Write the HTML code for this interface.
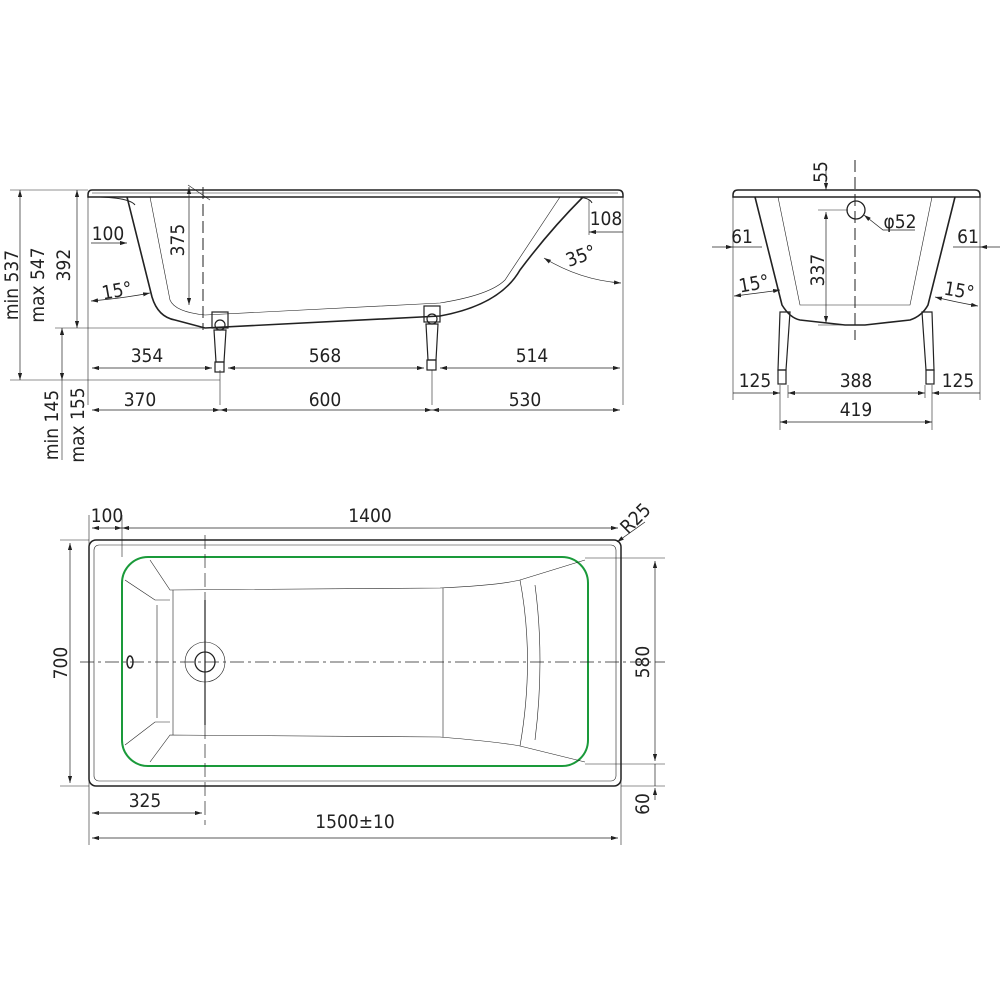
<!DOCTYPE html>
<html><head><meta charset="utf-8"><style>
body{margin:0;background:#fff}
svg{display:block}
text{font-family:"DejaVu Sans Condensed","Liberation Sans Narrow","Liberation Sans",sans-serif;font-size:19px;fill:#222}
</style></head><body>
<svg width="1000" height="1000" viewBox="0 0 1000 1000" xmlns="http://www.w3.org/2000/svg">
<defs>
<marker id="a" viewBox="0 0 10 6" refX="10" refY="3" markerWidth="10" markerHeight="6" orient="auto-start-reverse"><path d="M0,0 L10,3 L0,6 z" fill="#222"/></marker>
</defs>
<g stroke="#222" fill="none" stroke-width="1">
<path d="M92,190 L618,190 Q623,190 623,195 L623,197 L88,197 L88,195 Q88,190 92,190 Z" stroke-width="1.5"/>
<line x1="92" y1="193" x2="618" y2="193" stroke-width="0.6"/>
<path d="M127,197 L152,297 Q158,317 175,320 L205,328 L440,316 Q500,305 520,270 Q550,230 583,197" stroke-width="1.6"/>
<path d="M100,197 Q130,198 135,205" />
<path d="M578,197 Q590,198 592,203"/>
<path d="M150,197 L170,300 Q175,312 205,315 L440,303 Q490,295 505,280 L560,197" stroke-width="0.6"/>
<line x1="203" y1="187" x2="203" y2="330" stroke-dasharray="12,5"/>
<line x1="188" y1="185" x2="210" y2="200" stroke-width="0.6"/>
<g stroke-width="1.2">
<rect x="212" y="312" width="16" height="16"/><circle cx="220" cy="325" r="5"/><path d="M214,330 L226,330 L224,362 L216,362 Z"/><rect x="215" y="362" width="9" height="10"/>
<rect x="424" y="306" width="16" height="16"/><circle cx="432" cy="319" r="5"/><path d="M426,324 L438,324 L436,360 L428,360 Z"/><rect x="427" y="360" width="9" height="10"/>
</g>
<line x1="88" y1="197" x2="88" y2="405" stroke-width="0.6"/>
<line x1="623" y1="197" x2="623" y2="405" stroke-width="0.6"/>
<line x1="10" y1="190" x2="88" y2="190" stroke-width="0.6"/>
<line x1="55" y1="328" x2="205" y2="328" stroke-width="0.6"/>
<line x1="10" y1="380" x2="220" y2="380" stroke-width="0.6"/>
<line x1="220" y1="370" x2="220" y2="405" stroke-width="0.6"/>
<line x1="432" y1="370" x2="432" y2="405" stroke-width="0.6"/>
<line x1="20" y1="190" x2="20" y2="380" marker-start="url(#a)" marker-end="url(#a)" stroke-width="0.7"/>
<line x1="77" y1="190" x2="77" y2="328" marker-start="url(#a)" marker-end="url(#a)" stroke-width="0.7"/>
<line x1="62" y1="328" x2="62" y2="380" marker-start="url(#a)" marker-end="url(#a)" stroke-width="0.7"/>
<line x1="62" y1="380" x2="62" y2="460" stroke-width="0.6"/>
<line x1="92" y1="368" x2="212" y2="368" marker-start="url(#a)" marker-end="url(#a)" stroke-width="0.7"/>
<line x1="228" y1="368" x2="424" y2="368" marker-start="url(#a)" marker-end="url(#a)" stroke-width="0.7"/>
<line x1="440" y1="368" x2="620" y2="368" marker-start="url(#a)" marker-end="url(#a)" stroke-width="0.7"/>
<line x1="92" y1="410" x2="220" y2="410" marker-start="url(#a)" marker-end="url(#a)" stroke-width="0.7"/>
<line x1="220" y1="410" x2="432" y2="410" marker-start="url(#a)" marker-end="url(#a)" stroke-width="0.7"/>
<line x1="432" y1="410" x2="620" y2="410" marker-start="url(#a)" marker-end="url(#a)" stroke-width="0.7"/>
<line x1="91" y1="243" x2="127" y2="243" marker-end="url(#a)" stroke-width="0.7"/>
<line x1="589" y1="232" x2="623" y2="232" marker-start="url(#a)" stroke-width="0.7"/>
<line x1="589" y1="200" x2="589" y2="235" stroke-width="0.6"/>
<line x1="189" y1="187" x2="189" y2="305" marker-start="url(#a)" marker-end="url(#a)" stroke-width="0.7"/>
<path d="M91,301 Q125,298 150,293" marker-start="url(#a)" marker-end="url(#a)" stroke-width="0.7"/>
<path d="M544,258 Q580,280 621,283" marker-start="url(#a)" marker-end="url(#a)" stroke-width="0.7"/>
<path d="M738,190 L975,190 Q980,190 980,195 L980,197 L733,197 L733,195 Q733,190 738,190 Z" stroke-width="1.5"/>
<path d="M755,197 L782,305 Q790,318 800,320 L845,325 L865,325 L910,320 Q922,316 928,305 L955,197" stroke-width="1.6"/>
<path d="M778,197 L800,305 L910,305 L932,197" stroke-width="0.6"/>
<line x1="855" y1="160" x2="855" y2="340" stroke-dasharray="12,5"/>
<circle cx="856" cy="210" r="9" stroke-width="1.3"/>
<g stroke-width="1.2">
<path d="M780,312 L790,312 L786,370 L778,370 Z"/><rect x="778" y="370" width="8" height="14"/>
<path d="M922,312 L932,312 L934,370 L926,370 Z"/><rect x="926" y="370" width="8" height="14"/>
</g>
<line x1="733" y1="197" x2="733" y2="400" stroke-width="0.6"/>
<line x1="980" y1="197" x2="980" y2="400" stroke-width="0.6"/>
<line x1="780" y1="385" x2="780" y2="430" stroke-width="0.6"/>
<line x1="932" y1="385" x2="932" y2="430" stroke-width="0.6"/>
<line x1="788" y1="385" x2="788" y2="398" stroke-width="0.6"/>
<line x1="925" y1="385" x2="925" y2="398" stroke-width="0.6"/>
<line x1="712" y1="247" x2="733" y2="247" marker-end="url(#a)" stroke-width="0.7"/>
<line x1="733" y1="247" x2="762" y2="247" stroke-width="0.7"/>
<line x1="953" y1="247" x2="980" y2="247" stroke-width="0.7"/>
<line x1="1000" y1="247" x2="980" y2="247" marker-end="url(#a)" stroke-width="0.7"/>
<line x1="826" y1="165" x2="826" y2="190" marker-end="url(#a)" stroke-width="0.7"/>
<line x1="826" y1="212" x2="826" y2="323" marker-start="url(#a)" marker-end="url(#a)" stroke-width="0.7"/>
<line x1="818" y1="210" x2="848" y2="210" stroke-width="0.6"/>
<line x1="818" y1="325" x2="845" y2="325" stroke-width="0.6"/>
<path d="M915,230 L883,230 L864,215" marker-end="url(#a)" stroke-width="0.7"/>
<path d="M734,296 Q760,293 780,290" marker-start="url(#a)" marker-end="url(#a)" stroke-width="0.7"/>
<path d="M935,297 Q955,302 978,306" marker-start="url(#a)" marker-end="url(#a)" stroke-width="0.7"/>
<line x1="733" y1="393" x2="780" y2="393" marker-end="url(#a)" stroke-width="0.7"/>
<line x1="788" y1="393" x2="925" y2="393" marker-start="url(#a)" marker-end="url(#a)" stroke-width="0.7"/>
<line x1="932" y1="393" x2="980" y2="393" marker-start="url(#a)" stroke-width="0.7"/>
<line x1="780" y1="422" x2="932" y2="422" marker-start="url(#a)" marker-end="url(#a)" stroke-width="0.7"/>
<rect x="89" y="540" width="532" height="246" rx="7" stroke-width="1.5"/>
<rect x="94" y="545" width="522" height="236" rx="5" stroke-width="0.6"/>
<rect x="122" y="557" width="466" height="209" rx="26" stroke="#1a9a3a" stroke-width="2"/>
<path d="M125,580 L155,600 L170,600 M125,745 L155,722 L170,722 M150,560 L170,590 L440,588 Q500,585 520,580 L585,560 M150,762 L170,735 L440,737 Q500,742 520,746 L585,762" stroke-width="0.6"/>
<path d="M157,605 L157,718 M173,590 L173,735 M443,588 L443,737 M520,580 Q535,660 520,746 M535,585 Q545,660 535,740" stroke-width="0.6"/>
<line x1="80" y1="662" x2="665" y2="662" stroke-dasharray="14,4,3,4" stroke-width="0.7"/>
<line x1="205" y1="535" x2="205" y2="825" stroke-dasharray="14,5" stroke-width="0.7"/>
<line x1="205" y1="600" x2="205" y2="725" stroke-width="1.2"/>
<circle cx="205" cy="662" r="20" stroke-width="0.6"/>
<circle cx="205" cy="662" r="10" stroke-width="1.3"/>
<ellipse cx="130" cy="662" rx="3" ry="6" stroke-width="1.5"/>
<line x1="122" y1="515" x2="122" y2="557" stroke-width="0.6"/>
<line x1="89" y1="515" x2="89" y2="845" stroke-width="0.6"/>
<line x1="621" y1="545" x2="621" y2="845" stroke-width="0.6"/>
<line x1="92" y1="528" x2="122" y2="528" marker-start="url(#a)" marker-end="url(#a)" stroke-width="0.7"/>
<line x1="122" y1="528" x2="618" y2="528" marker-start="url(#a)" marker-end="url(#a)" stroke-width="0.7"/>
<line x1="645" y1="522" x2="617" y2="542" marker-end="url(#a)" stroke-width="0.7"/>
<line x1="60" y1="540" x2="89" y2="540" stroke-width="0.6"/>
<line x1="60" y1="786" x2="89" y2="786" stroke-width="0.6"/>
<line x1="70" y1="543" x2="70" y2="783" marker-start="url(#a)" marker-end="url(#a)" stroke-width="0.7"/>
<line x1="585" y1="558" x2="665" y2="558" stroke-width="0.6"/>
<line x1="585" y1="764" x2="665" y2="764" stroke-width="0.6"/>
<line x1="621" y1="786" x2="665" y2="786" stroke-width="0.6"/>
<line x1="655" y1="561" x2="655" y2="761" marker-start="url(#a)" marker-end="url(#a)" stroke-width="0.7"/>
<line x1="655" y1="764" x2="655" y2="786" stroke-width="0.7"/>
<line x1="655" y1="800" x2="655" y2="788" marker-end="url(#a)" stroke-width="0.7"/>
<line x1="92" y1="813" x2="202" y2="813" marker-start="url(#a)" marker-end="url(#a)" stroke-width="0.7"/>
<line x1="92" y1="838" x2="618" y2="838" marker-start="url(#a)" marker-end="url(#a)" stroke-width="0.7"/>
</g>
<text x="147" y="362" text-anchor="middle">354</text>
<text x="325" y="362" text-anchor="middle">568</text>
<text x="532" y="362" text-anchor="middle">514</text>
<text x="140" y="406" text-anchor="middle">370</text>
<text x="325" y="406" text-anchor="middle">600</text>
<text x="525" y="406" text-anchor="middle">530</text>
<text x="108" y="240" text-anchor="middle">100</text>
<text x="606" y="225" text-anchor="middle">108</text>
<text x="118" y="297" text-anchor="middle" transform="rotate(-10 118 297)">15°</text>
<text x="583" y="262" text-anchor="middle" transform="rotate(-20 583 262)">35°</text>
<text transform="translate(184,240) rotate(-90)" text-anchor="middle">375</text>
<text transform="translate(18,285) rotate(-90)" text-anchor="middle">min 537</text>
<text transform="translate(44,285) rotate(-90)" text-anchor="middle">max 547</text>
<text transform="translate(70,265) rotate(-90)" text-anchor="middle">392</text>
<text transform="translate(58,425) rotate(-90)" text-anchor="middle">min 145</text>
<text transform="translate(84,425) rotate(-90)" text-anchor="middle">max 155</text>
<text transform="translate(827,172) rotate(-90)" text-anchor="middle">55</text>
<text x="900" y="228" text-anchor="middle">φ52</text>
<text transform="translate(824,270) rotate(-90)" text-anchor="middle">337</text>
<text x="742" y="243" text-anchor="middle">61</text>
<text x="968" y="243" text-anchor="middle">61</text>
<text x="755" y="290" text-anchor="middle" transform="rotate(-10 755 290)">15°</text>
<text x="958" y="297" text-anchor="middle" transform="rotate(10 958 297)">15°</text>
<text x="755" y="387" text-anchor="middle">125</text>
<text x="856" y="387" text-anchor="middle">388</text>
<text x="958" y="387" text-anchor="middle">125</text>
<text x="856" y="416" text-anchor="middle">419</text>
<text x="107" y="522" text-anchor="middle">100</text>
<text x="370" y="522" text-anchor="middle">1400</text>
<text x="640" y="523" text-anchor="middle" transform="rotate(-45 640 523)">R25</text>
<text transform="translate(67,663) rotate(-90)" text-anchor="middle">700</text>
<text transform="translate(649,662) rotate(-90)" text-anchor="middle">580</text>
<text transform="translate(649,804) rotate(-90)" text-anchor="middle">60</text>
<text x="145" y="807" text-anchor="middle">325</text>
<text x="355" y="828" text-anchor="middle">1500±10</text>
</svg>
</body></html>
